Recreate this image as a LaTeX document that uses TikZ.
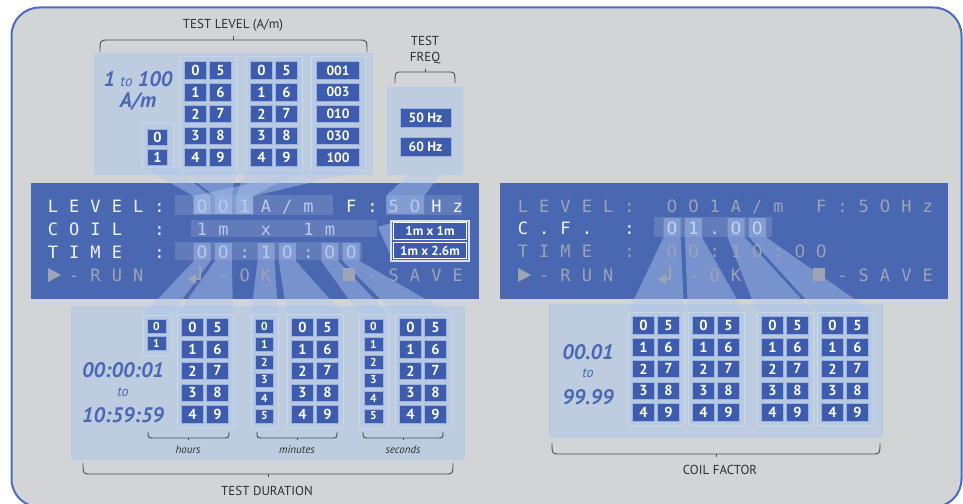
\documentclass[tikz,border=0pt]{standalone}
\usepackage{fontspec}
\setmainfont{PT Sans}
\newfontfamily\lcdfont{DejaVu Sans Mono}
\newfontfamily\zerofont{DejaVu Sans}
\usetikzlibrary{calc}
\definecolor{framebg}{HTML}{D3D4D6}
\definecolor{framebl}{HTML}{4A6CC0}
\definecolor{panelc}{HTML}{4A68B2}
\definecolor{bigbox}{HTML}{BECCDF}
\definecolor{bigline}{HTML}{C8D5E6}
\definecolor{subbox}{HTML}{B8CAE2}
\definecolor{subline}{HTML}{C9D7EB}
\definecolor{btnc}{HTML}{3D5CAD}
\definecolor{btnline}{HTML}{9DB3DD}
\definecolor{beamc}{HTML}{AEC6EC}
\definecolor{labc}{HTML}{2E2E2E}
\definecolor{bluetxt}{HTML}{4A68B5}
\definecolor{lcdw}{HTML}{F2F4FA}
\definecolor{lcdv}{HTML}{B9CBEE}
\definecolor{lcdg}{HTML}{9EA3B6}
\definecolor{lcdcf}{HTML}{C4D8F6}
\newcommand\slashc{/}
\newcommand\zr{{\zerofont 0}}
\newcommand\lcdrow[5]{%
  \foreach \c/\ch in {#5} {\node[lcdc,text=#4] (#1\c) at ({#2+21.3*\c},#3) {\ch};}}
\newcommand\dgroup[3]{%
  \draw[subg] (#2,#3) rectangle ++(56,113);
  \foreach \r in {0,...,4}{%
    \pgfmathtruncatemacro\ra{\r}\pgfmathtruncatemacro\rb{\r+5}%
    \node[btn] (#1a\ra) at ({#2+15.5},{#3+13.5+21.7*\r}) {\ra};
    \node[btn] (#1b\rb) at ({#2+40.5},{#3+13.5+21.7*\r}) {\rb};}}
\newcommand\beam[7]{%
  \fill[beam] (#1,#3) -- (#4,#6) -- (#4,#7) -- (#5,#7) -- (#5,#6) -- (#2,#3) -- cycle;}
\newcommand\tbrace[5]{%
  \draw[brc] (#1,#4) .. controls (#1,#3) .. (#1+#5,#3) -- (#2-#5,#3) .. controls (#2,#3) .. (#2,#4);
  \draw[brc] ({(#1+#2)/2},#3) -- ({(#1+#2)/2},{#3+(#3-#4)*0.3});}
\tikzset{
  btn/.style={draw=btnline, line width=0.6pt, fill=btnc, text=white,
    font=\bfseries\fontsize{14.5}{14.5}\selectfont, inner sep=0pt,
    minimum width=21.5pt, minimum height=17.5pt},
  sbtn/.style={btn, font=\bfseries\fontsize{11.5}{11.5}\selectfont,
    minimum width=19pt, minimum height=14pt},
  wbtn/.style={btn, font=\bfseries\fontsize{13.5}{13.5}\selectfont,
    minimum width=43pt},
  fbtn/.style={btn, font=\bfseries\fontsize{13.5}{13.5}\selectfont,
    minimum width=51pt, minimum height=19pt},
  popbtn/.style={draw=white, line width=0.9pt, fill=btnc, text=white,
    font=\bfseries\fontsize{13}{13}\selectfont, inner sep=0pt,
    minimum width=73pt, minimum height=16.5pt},
  bigb/.style={fill=bigbox, draw=bigline, line width=1pt},
  subg/.style={fill=subbox, draw=subline, line width=1pt},
  beam/.style={fill=beamc, opacity=0.45},
  hil/.style={fill=white, opacity=0.13},
  lcdc/.style={font=\lcdfont\fontsize{17}{17}\selectfont, inner sep=0pt, anchor=base},
  brc/.style={draw=labc!85, line width=0.9pt},
  lab/.style={text=labc, font=\fontsize{13}{16}\selectfont, inner sep=0pt},
  sublab/.style={text=labc, font=\itshape\fontsize{11}{11}\selectfont, inner sep=0pt},
  bigit/.style={text=bluetxt, font=\bfseries\itshape\fontsize{21}{21}\selectfont, inner sep=0pt},
  smit/.style={text=bluetxt, font=\itshape\fontsize{14}{14}\selectfont, inner sep=0pt},
}
\begin{document}
\begin{tikzpicture}[x=1pt,y=-1pt]
\useasboundingbox (0,0) rectangle (963,503);
\fill[white] (0,0) rectangle (963,503);
\draw[fill=framebg, draw=framebl, line width=2pt, rounded corners=28pt] (11.5,7.5) rectangle (961.5,507);
% LCD panels
\fill[panelc] (31,183) rectangle (479,299);
\fill[panelc] (500,183) rectangle (948,299);
\fill[hil] (175,195) rectangle (333,215);
\fill[hil] (387,195) rectangle (462,215);
\fill[hil] (191,220) rectangle (377,237);
\fill[hil] (175,242) rectangle (362,260);
\fill[hil] (654,217) rectangle (772,237);
% big boxes
\draw[bigb] (93,53) rectangle (373,175);
\draw[bigb] (386,86) rectangle (463,175);
\draw[bigb] (70,305) rectangle (465,460);
\draw[bigb] (548,303) rectangle (883,438);
% test level groups
\draw[subg] (142,123) rectangle (173,167);
\node[btn, minimum width=20pt, minimum height=16pt] (la0) at (157.5,137.5) {0};
\node[btn, minimum width=20pt, minimum height=16pt] (la1) at (157.5,157) {1};
\dgroup{lb}{180}{57}
\dgroup{lc}{246}{57}
\draw[subg] (311,57) rectangle (365,170);
\foreach \v [count=\k from 0] in {001,003,010,030,100}
  \node[wbtn] (ld\k) at (338,{70.5+21.7*\k}) {\v};
% freq
\node[fbtn] (f50) at (425.5,117.5) {50 Hz};
\node[fbtn] (f60) at (425.5,146.5) {60 Hz};
% duration groups
\draw[subg] (143,315) rectangle (171,355);
\node[sbtn] (ha0) at (156.5,326) {0};
\node[sbtn] (ha1) at (156.5,343.5) {1};
\dgroup{hb}{177}{314}
\draw[subg] (251,314) rectangle (278,428);
\foreach \k in {0,...,5} \node[sbtn, minimum width=18pt] (ma\k) at (264.5,{326+18*\k}) {\k};
\dgroup{mb}{287}{314}
\draw[subg] (359,314) rectangle (388,428);
\foreach \k in {0,...,5} \node[sbtn] (sa\k) at (373.5,{326+18*\k}) {\k};
\dgroup{sb}{395}{314}
% coil factor groups
\dgroup{ca}{628}{312}
\dgroup{cb}{688}{312}
\dgroup{cc}{757}{312}
\dgroup{cd}{817}{312}
% beams
\beam{142}{173}{167}{193.6}{210.6}{196}{214}
\beam{180}{236}{170}{214.9}{231.9}{196}{214}
\beam{246}{302}{170}{236.2}{253.2}{196}{214}
\beam{311}{365}{170}{193.6}{253.2}{196}{214}
\beam{408}{440}{175}{386}{424}{196}{214}
\beam{143}{171}{315}{193.6}{210.6}{261}{243}
\beam{177}{233}{314}{214.9}{231.9}{261}{243}
\beam{251}{278}{314}{257.5}{274.5}{261}{243}
\beam{287}{343}{314}{278.8}{295.8}{261}{243}
\beam{359}{388}{314}{321.4}{338.4}{261}{243}
\beam{395}{451}{314}{342.7}{359.7}{261}{243}
\beam{628}{684}{312}{663.6}{680.6}{237}{218}
\beam{688}{744}{312}{684.9}{701.9}{237}{218}
\beam{757}{813}{312}{727.5}{744.5}{237}{218}
\beam{817}{873}{312}{748.8}{765.8}{237}{218}
% left LCD text
\lcdrow{lL}{53}{212.5}{lcdw}{0/L,1/E,2/V,3/E,4/L,5/:,14/F,15/:,18/H,19/z}
\lcdrow{lV}{53}{212.5}{lcdv}{7/\zr,8/\zr,9/1,10/A,11/\slashc,12/m,16/5,17/\zr}
\lcdrow{lC}{53}{235.5}{lcdw}{0/C,1/O,2/I,3/L,5/:}
\lcdrow{lD}{53}{235.5}{lcdv}{7/1,8/m,10/x,12/1,13/m}
\lcdrow{lT}{53}{258}{lcdw}{0/T,1/I,2/M,3/E,5/:}
\lcdrow{lU}{53}{258}{lcdv}{7/\zr,8/\zr,9/:,10/1,11/\zr,12/:,13/\zr,14/\zr}
\lcdrow{lR}{53}{281.5}{lcdg}{1/-,2/R,3/U,4/N,8/-,9/O,10/K,15/-,16/S,17/A,18/V,19/E}
\fill[lcdg] (48,268) -- (61,275) -- (48,282) -- cycle;
\draw[lcdg, line width=2pt] (200,266) -- (200,279) -- (194,279);
\fill[lcdg] (188,279) -- (196,274) -- (196,284) -- cycle;
\fill[lcdg] (343,268) rectangle (355,281);
% right LCD text
\lcdrow{rL}{523}{212.5}{lcdg}{0/L,1/E,2/V,3/E,4/L,5/:,7/\zr,8/\zr,9/1,10/A,11/\slashc,12/m,14/F,15/:,16/5,17/\zr,18/H,19/z}
\lcdrow{rC}{523}{234.5}{lcdw}{0/C,1/.,2/F,3/.,5/:}
\lcdrow{rD}{523}{234.5}{lcdcf}{7/\zr,8/1,9/.,10/\zr,11/\zr}
\lcdrow{rT}{523}{257.5}{lcdg}{0/T,1/I,2/M,3/E,5/:,7/\zr,8/\zr,9/:,10/1,11/\zr,12/:,13/\zr,14/\zr}
\lcdrow{rR}{523}{281.5}{lcdg}{1/-,2/R,3/U,4/N,8/-,9/O,10/K,15/-,16/S,17/A,18/V,19/E}
\fill[lcdg] (518,268) -- (531,275) -- (518,282) -- cycle;
\draw[lcdg, line width=2pt] (670,266) -- (670,279) -- (664,279);
\fill[lcdg] (658,279) -- (666,274) -- (666,284) -- cycle;
\fill[lcdg] (813,268) rectangle (825,281);
% coil popup
\fill[beam] (378,227) -- (391,223) -- (391,256) -- cycle;
\draw[draw=lcdw!85!panelc, line width=1.5pt, fill=panelc] (391,221) rectangle (469,261);
\node[popbtn] (p1) at (430,231) {1m x 1m};
\node[popbtn] (p2) at (430,250.5) {1m x 2.6m};
% blue italic texts
\node[bigit] (lvr) at (138,79) {1 {\fontsize{15}{15}\selectfont\mdseries to} 100};
\node[bigit] (lvu) at (138,102) {A/m};
\node[bigit] (du1) at (123,370) {00:00:01};
\node[smit] (du2) at (123,392) {to};
\node[bigit] (du3) at (123,415) {10:59:59};
\node[bigit] (cf1) at (588,352) {00.01};
\node[smit] (cf2) at (588,373) {to};
\node[bigit] (cf3) at (588,397) {99.99};
% labels and braces
\node[lab] (tl) at (233,25) {TEST LEVEL (A/m)};
\node[lab, align=center] (tfq) at (425,50) {TEST\\FREQ};
\node[lab] (tdu) at (267,491) {TEST DURATION};
\node[lab] (tcf) at (720,470) {COIL FACTOR};
\node[sublab] (hr) at (188,450) {hours};
\node[sublab] (mn) at (297,450) {minutes};
\node[sublab] (sc) at (403,450) {seconds};
\tbrace{100}{367}{40}{52}{9}
\tbrace{395}{455}{72}{83}{7}
\tbrace{148}{229}{438}{432}{6}
\tbrace{257}{337}{438}{432}{6}
\tbrace{363}{443}{438}{432}{6}
\tbrace{83}{453}{474}{463}{8}
\tbrace{552}{880}{454}{443}{8}
\end{tikzpicture}
\end{document}
